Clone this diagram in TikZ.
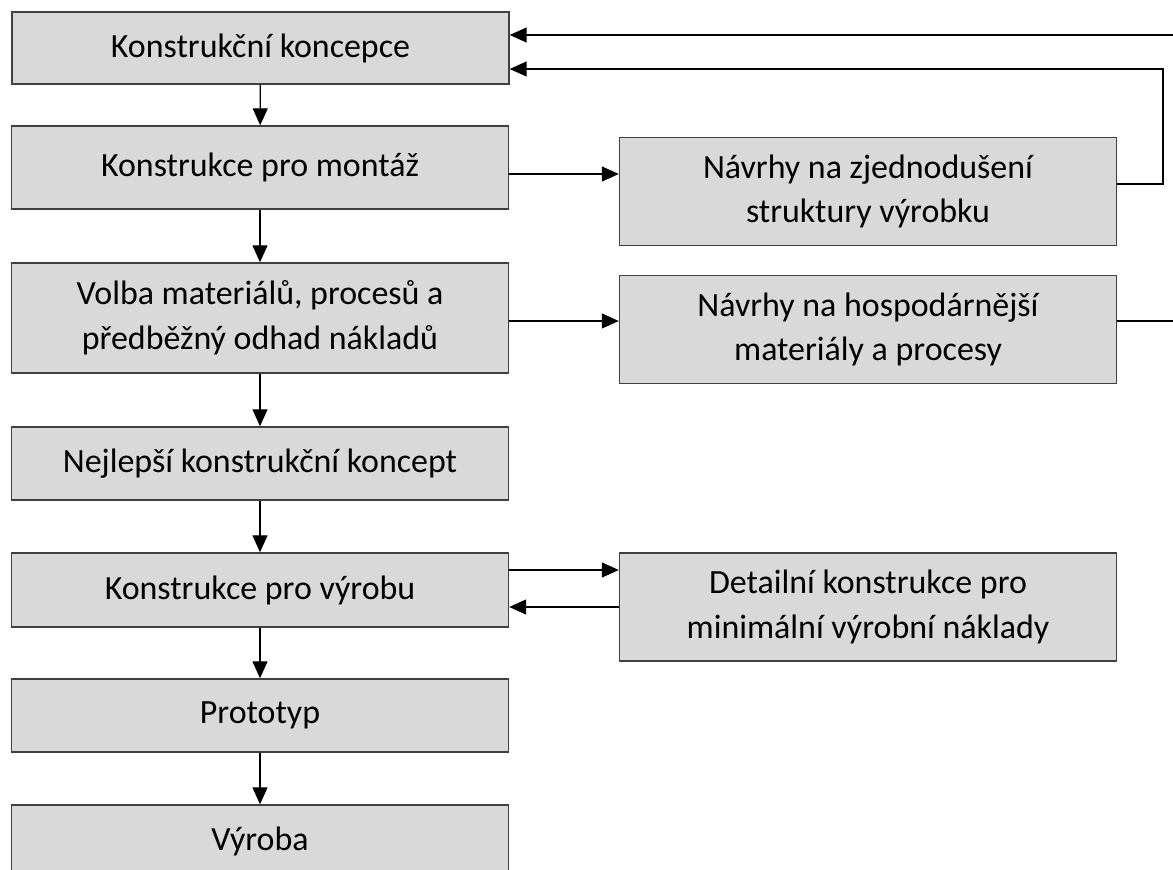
\documentclass[tikz,border=0pt]{standalone}
\usepackage{fontspec}
\setmainfont{Carlito}
\usetikzlibrary{arrows.meta}
\definecolor{vypln}{HTML}{D9D9D9}
\definecolor{okraj}{HTML}{404040}

\begin{document}
\begin{tikzpicture}[x=0.2mm,y=-0.2mm,
		blok/.style={draw=okraj,line width=0.8pt,fill=vypln,minimum width=99.4mm,inner sep=0pt,align=center,font=\fontsize{19.3}{25.5}\selectfont},
		sipka/.style={-{Triangle[length=3.4mm,width=3mm]},line width=0.7pt}]
			\useasboundingbox (0,0) rectangle (1173,870);

			\node[blok,minimum height=14.4mm] (koncepce) at (260.5,48) {Konstrukční koncepce};
			\node[blok,minimum height=16.6mm] (montaz) at (260,167.5) {Konstrukce pro montáž};
			\node[blok,minimum height=22mm] (volba) at (260,318) {Volba materiálů, procesů a\\předběžný odhad nákladů};
			\node[blok,minimum height=14.6mm] (nejlepsi) at (260,463.5) {Nejlepší konstrukční koncept};
			\node[blok,minimum height=14.8mm] (konvyroba) at (260,590) {Konstrukce pro výrobu};
			\node[blok,minimum height=14.6mm] (prototyp) at (260,715.5) {Prototyp};
			\node[blok,minimum height=14.6mm] (vyroba) at (260,841.5) {Výroba};

			\node[blok,minimum height=21.6mm] (zjednoduseni) at (868,191.5) {Návrhy na zjednodušení\\struktury výrobku};
			\node[blok,minimum height=21.6mm] (hospodarnejsi) at (868,329.5) {Návrhy na hospodárnější\\materiály a procesy};
			\node[blok,minimum height=21.6mm] (detailni) at (868,607) {Detailní konstrukce pro\\minimální výrobní náklady};

			\coordinate (roh) at (1163,69);
			\coordinate (mimo) at (1173,35);

			\draw[sipka] (koncepce) -- (montaz);
			\draw[sipka] (montaz) -- (volba);
			\draw[sipka] (volba) -- (nejlepsi);
			\draw[sipka] (nejlepsi) -- (konvyroba);
			\draw[sipka] (konvyroba) -- (prototyp);
			\draw[sipka] (prototyp) -- (vyroba);

			\draw[sipka] (montaz.east |- 0,174) -- (zjednoduseni.west |- 0,174);
			\draw[sipka] (zjednoduseni.east |- 0,184) -| (roh) -- (koncepce.east |- roh);
			\draw[sipka] (volba.east |- 0,321) -- (hospodarnejsi.west |- 0,321);
			\draw[line width=0.7pt] (hospodarnejsi.east |- 0,321) -- (mimo |- 0,321);
			\draw[sipka] (mimo) -- (koncepce.east |- mimo);
			\draw[sipka] (konvyroba.east |- 0,570) -- (detailni.west |- 0,570);
			\draw[sipka] (detailni.west) -- (konvyroba.east |- detailni.west);
		\end{tikzpicture}
\end{document}
